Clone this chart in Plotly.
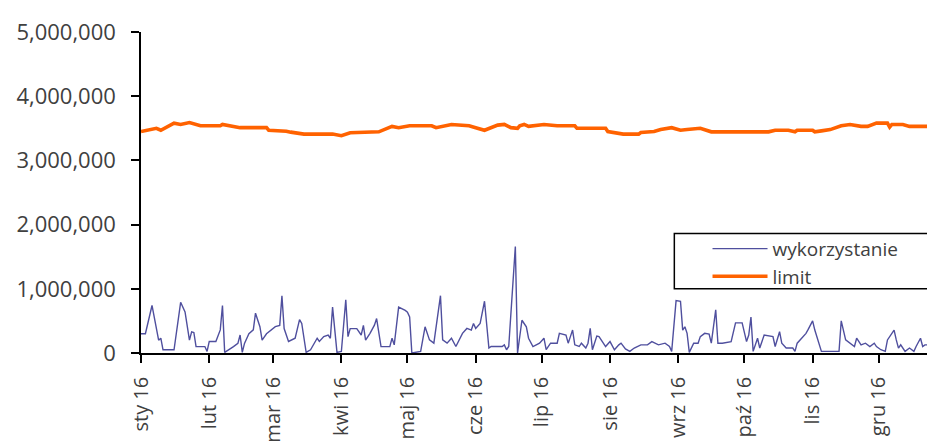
import pandas as pd
import plotly.graph_objects as go

start = pd.Timestamp("2016-01-01")

# wykorzystanie: day offset from 1 Jan 2016, value in thousands
use_days = [0, 2, 5, 7, 8, 9, 10, 15, 18, 20,
            22, 23, 24, 25, 29, 30, 31, 34, 36, 37,
            38, 42, 44, 45, 46, 47, 49, 51, 52, 54,
            55, 57, 59, 61, 63, 64, 65, 67, 70, 72,
            73, 74, 75, 77, 79, 80, 81, 83, 85, 86,
            87, 89, 91, 93, 94, 95, 98, 100, 101, 102,
            104, 106, 107, 109, 113, 114, 115, 117, 120, 121,
            122, 123, 127, 129, 131, 133, 136, 137, 139, 141,
            143, 144, 146, 148, 150, 151, 152, 154, 156, 158,
            159, 164, 165, 166, 167, 170, 171, 173, 175, 176,
            178, 181, 183, 184, 186, 189, 190, 193, 194, 195,
            196, 197, 199, 200, 202, 203, 204, 205, 207, 208,
            210, 211, 213, 215, 217, 218, 220, 222, 224, 227,
            230, 232, 235, 238, 240, 241, 243, 245, 246, 247,
            248, 249, 251, 253, 254, 256, 258, 259, 261, 262,
            264, 268, 270, 273, 275, 276, 277, 278, 280, 281,
            283, 287, 288, 290, 291, 293, 296, 297, 298, 300,
            302, 303, 305, 306, 309, 317, 318, 320, 322, 324,
            325, 327, 329, 331, 333, 334, 336, 338, 339, 340,
            342, 343, 344, 345, 347, 349, 351, 352, 354, 355,
            356, 359, 361]
use_k = [300, 300, 740, 360, 200, 230, 50, 50, 790, 640,
         200, 330, 320, 100, 100, 25, 180, 180, 360, 740,
         10, 100, 150, 280, 10, 150, 300, 360, 620, 410,
         200, 300, 360, 410, 430, 890, 380, 180, 230, 520,
         460, 210, 10, 50, 180, 230, 180, 255, 280, 230,
         714, 10, 25, 830, 255, 380, 380, 280, 430, 200,
         306, 433, 536, 100, 100, 230, 127, 714, 663, 637,
         561, 0, 25, 408, 204, 153, 893, 204, 153, 230,
         101, 178, 306, 383, 357, 459, 383, 459, 806, 77,
         101, 101, 127, 51, 101, 1658, 0, 510, 408, 230,
         101, 153, 230, 51, 153, 153, 306, 280, 153, 255,
         357, 127, 101, 153, 77, 153, 383, 51, 265, 255,
         153, 101, 178, 51, 127, 153, 63, 25, 77, 127,
         127, 178, 127, 153, 101, 25, 816, 806, 357, 408,
         306, 10, 153, 153, 255, 306, 296, 153, 674, 153,
         153, 178, 469, 469, 178, 280, 561, 25, 230, 77,
         280, 255, 101, 332, 153, 77, 77, 25, 153, 230,
         306, 367, 500, 357, 25, 25, 500, 204, 153, 101,
         230, 127, 153, 101, 153, 101, 51, 25, 204, 255,
         357, 204, 77, 127, 25, 77, 25, 101, 230, 101,
         127, 127, 153]

# limit: day offset, value in millions
lim_days = [0, 7, 9, 11, 15, 18, 22, 27, 36, 37,
            40, 45, 57, 58, 66, 68, 74, 87, 91, 95,
            108, 114, 117, 122, 132, 134, 141, 149, 152, 156,
            162, 165, 168, 171, 172, 174, 176, 183, 189, 197,
            198, 211, 212, 219, 226, 227, 233, 236, 241, 245,
            248, 254, 259, 285, 288, 294, 297, 298, 305, 306,
            309, 313, 318, 322, 327, 330, 334, 339, 340, 341,
            346, 349, 361]
lim_m = [3.45, 3.50, 3.47, 3.51, 3.58, 3.56, 3.59, 3.54, 3.54, 3.56,
         3.54, 3.51, 3.51, 3.47, 3.455, 3.44, 3.41, 3.41, 3.385, 3.43,
         3.445, 3.53, 3.51, 3.54, 3.54, 3.51, 3.56, 3.54, 3.51, 3.47,
         3.55, 3.56, 3.51, 3.50, 3.54, 3.56, 3.53, 3.56, 3.54, 3.54,
         3.50, 3.50, 3.45, 3.41, 3.41, 3.435, 3.45, 3.48, 3.51, 3.47,
         3.48, 3.50, 3.445, 3.445, 3.47, 3.47, 3.445, 3.47, 3.47, 3.445,
         3.46, 3.48, 3.54, 3.56, 3.53, 3.53, 3.58, 3.58, 3.52, 3.56,
         3.56, 3.53, 3.53]

month_ticks = ["2016-01-01", "2016-02-01", "2016-03-01", "2016-04-01",
               "2016-05-01", "2016-06-01", "2016-07-01", "2016-08-01",
               "2016-09-01", "2016-10-01", "2016-11-01", "2016-12-01"]
month_labels = ["sty 16", "lut 16", "mar 16", "kwi 16", "maj 16", "cze 16",
                "lip 16", "sie 16", "wrz 16", "paź 16", "lis 16", "gru 16"]
y_ticks = [0, 1000000, 2000000, 3000000, 4000000, 5000000]

assert len(use_days) == len(use_k)
assert len(lim_days) == len(lim_m)

use_x = start + pd.to_timedelta(use_days, unit="D")
use_y = [v * 1000 for v in use_k]
lim_x = start + pd.to_timedelta(lim_days, unit="D")
lim_y = [v * 1_000_000 for v in lim_m]

FONT = "Open Sans"
TXT = "#404040"

fig = go.Figure()
fig.add_trace(go.Scatter(x=use_x, y=use_y, mode="lines", name="wykorzystanie",
                         line=dict(color="#4f4f9e", width=1.4)))
fig.add_trace(go.Scatter(x=lim_x, y=lim_y, mode="lines", name="limit",
                         line=dict(color="#ff6200", width=3.6)))

fig.update_layout(
    width=935, height=445,
    margin=dict(l=129, r=8, t=19, b=100),
    paper_bgcolor="white", plot_bgcolor="white",
    font=dict(family=FONT, color=TXT),
    showlegend=True,
    legend=dict(x=0.7135, xanchor="left", y=0.384, yanchor="top",
                bgcolor="rgba(0,0,0,0)", borderwidth=0,
                font=dict(family=FONT, size=19, color=TXT),
                tracegroupgap=0, itemwidth=55),
    xaxis=dict(range=["2016-01-01", "2016-12-26 14:00"],
               tickvals=month_ticks, ticktext=month_labels, tickangle=-90,
               showgrid=False, zeroline=False,
               showline=True, linecolor="black", linewidth=1.5,
               ticks="outside", ticklen=8, tickcolor="black", tickwidth=1.5,
               ticklabelstandoff=6,
               tickfont=dict(family=FONT, size=20, color=TXT)),
    yaxis=dict(range=[0, 5000000], tickvals=y_ticks, tickformat=",",
               showgrid=False, zeroline=False,
               showline=True, linecolor="black", linewidth=1.5,
               ticks="outside", ticklen=8, tickcolor="black", tickwidth=1.5,
               ticklabelstandoff=11,
               tickfont=dict(family=FONT, size=22, color=TXT)),
    shapes=[dict(type="rect", xref="paper", yref="paper",
                 x0=0.6717, x1=1.05, y0=0.200, y1=0.372,
                 line=dict(color="black", width=1.5), fillcolor="rgba(0,0,0,0)")],
)

fig.write_html("out.html")
